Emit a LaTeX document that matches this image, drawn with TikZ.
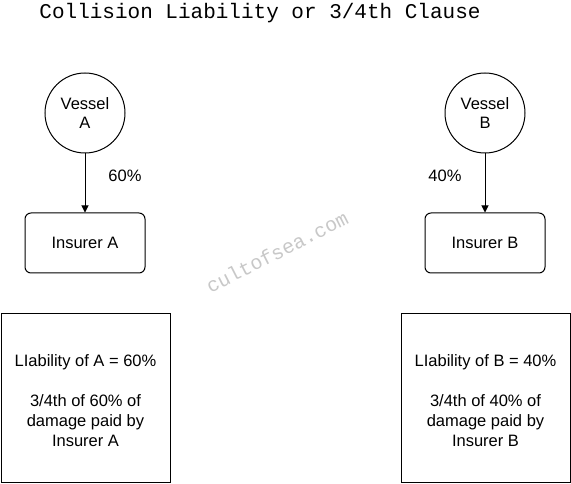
\documentclass[tikz,border=0pt]{standalone}
\usepackage{fontspec}
\setmainfont{Liberation Sans}
\newfontfamily\monofont{Liberation Mono}
\usetikzlibrary{arrows.meta}
\definecolor{wmgray}{RGB}{200,200,200}
\tikzset{
  vessel/.style={draw, circle, line width=1pt, minimum size=80pt, inner sep=0pt, align=center, font=\fontsize{16.5}{19}\selectfont},
  insurer/.style={draw, rounded corners=6pt, line width=1pt, minimum width=120pt, minimum height=60pt, font=\fontsize{16.5}{19}\selectfont},
  liab/.style={draw, line width=1pt, minimum width=169pt, minimum height=169pt},
  liabtext/.style={align=center, font=\fontsize{16.5}{20}\selectfont},
  pct/.style={font=\fontsize{16.5}{19}\selectfont},
  link/.style={line width=1pt, -{Triangle[length=7pt,width=7pt]}},
}
\begin{document}
\begin{tikzpicture}[x=1pt,y=-1pt]
\useasboundingbox (0,0) rectangle (571,484);
\fill[white] (0,0) rectangle (571,484);
\node[font=\monofont\fontsize{21}{24}\selectfont] (title) at (260,13) {Collision Liability or 3/4th Clause};
\node[rotate=27, text=wmgray, font=\monofont\fontsize{20}{22}\selectfont] (wm) at (277,252) {cultofsea.com};

\node[vessel] (va) at (85,113) {Vessel\\A};
\node[vessel] (vb) at (485,113) {Vessel\\B};
\node[insurer] (ia) at (85,243) {Insurer A};
\node[insurer] (ib) at (485,243) {Insurer B};
\draw[link] (va) -- (ia);
\draw[link] (vb) -- (ib);
\node[pct] (pa) at (125,176) {60\%};
\node[pct] (pb) at (445,176) {40\%};

\node[liab] (la) at (85.5,397.5) {};
\node[liab] (lb) at (485.5,397.5) {};
\node[liabtext] (lat) at ([yshift=-3.5pt]la.center) {LIability of A = 60\%\\[20pt]3/4th of 60\% of\\damage paid by\\Insurer A};
\node[liabtext] (lbt) at ([yshift=-3.5pt]lb.center) {LIability of B = 40\%\\[20pt]3/4th of 40\% of\\damage paid by\\Insurer B};
\end{tikzpicture}
\end{document}
